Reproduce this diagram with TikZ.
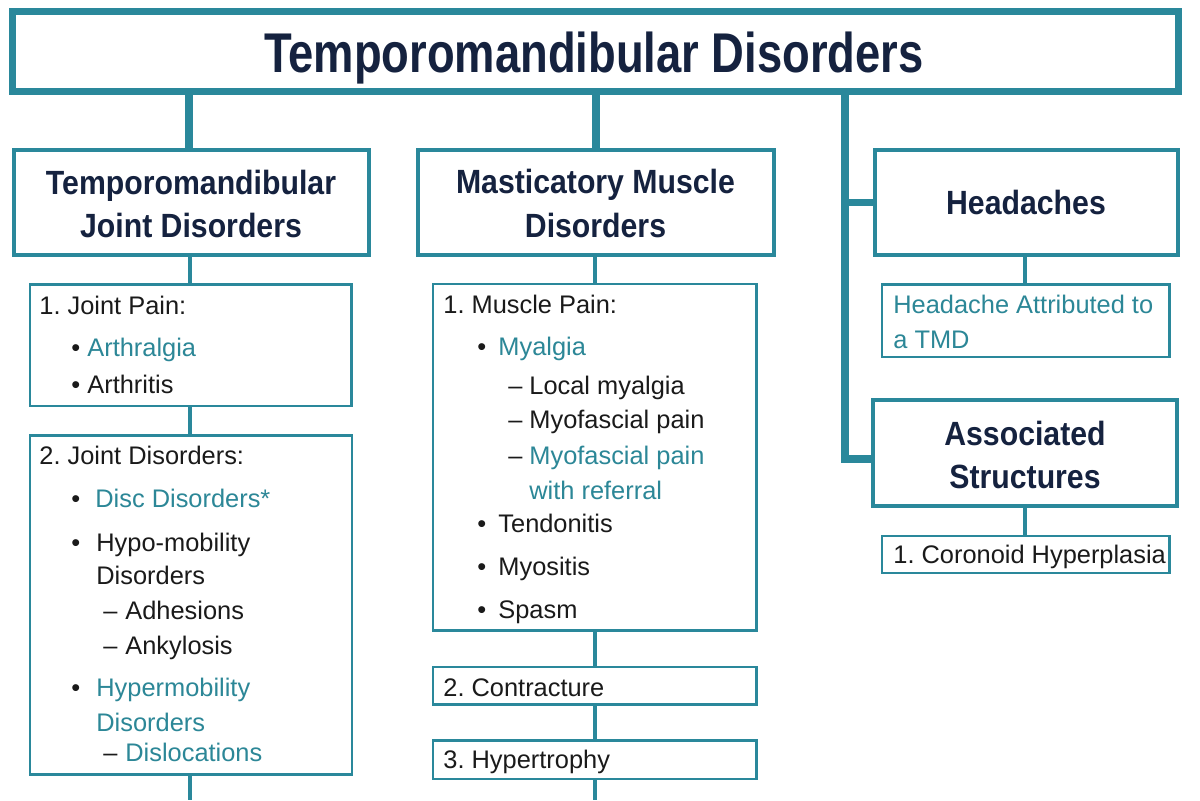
\documentclass[tikz,border=0pt]{standalone}
\usepackage{fontspec}
\setmainfont{Liberation Sans}
\newfontfamily\titlefont{Liberation Sans}[FakeStretch=0.81]
\newfontfamily\headfont{Liberation Sans}[FakeStretch=0.9]
\definecolor{tmdteal}{HTML}{2A889B}
\definecolor{tmdtext}{HTML}{2C8797}
\definecolor{tmdnavy}{HTML}{15223F}
\definecolor{tmdblack}{HTML}{1A1A1A}
\frenchspacing
\newcommand{\bodyfont}{\fontsize{12.7pt}{15pt}\selectfont\frenchspacing}
\newcommand{\bl}[1]{\makebox[#1][l]{\textcolor{tmdblack}{\char"2022}}}
\newcommand{\ds}[1]{\makebox[#1][l]{\textcolor{tmdblack}{\char"2013}}}
\begin{document}
\begin{tikzpicture}[x=0.5pt,y=-0.5pt,
  box/.style={draw=tmdteal, fill=white, rectangle, inner sep=0pt, outer sep=0pt},
  titlebox/.style={box, line width=3.5pt},
  headbox/.style={box, line width=2pt},
  subbox/.style={box, line width=1.4pt},
  trunk/.style={draw=tmdteal, line width=3.6pt, line join=miter},
  twig/.style={draw=tmdteal, line width=1.6pt},
  txt/.style={anchor=base west, inner sep=0pt, font=\bodyfont, text=tmdblack},
  ttxt/.style={txt, text=tmdtext},
  hd/.style={anchor=base, inner sep=0pt, text=tmdnavy, font={\headfont\bfseries\fontsize{16.8pt}{20pt}\selectfont}},
  ttl/.style={anchor=base, inner sep=0pt, text=tmdnavy, font={\titlefont\bfseries\fontsize{28pt}{32pt}\selectfont}}
]
\fill[white] (0,0) rectangle (1200,800);
\useasboundingbox (0,0) rectangle (1200,800);

% boxes
\node[titlebox, minimum width=583pt, minimum height=40pt] (title) at (595,51) {};
\node[headbox, minimum width=177.5pt, minimum height=52.5pt] (tmj) at (191,202.5) {};
\node[headbox, minimum width=178.25pt, minimum height=52.5pt] (mmd) at (595.75,202.5) {};
\node[headbox, minimum width=151.5pt, minimum height=52.5pt] (head) at (1026,202.5) {};
\node[headbox, minimum width=152pt, minimum height=53pt] (assoc) at (1025,453) {};
\node[subbox, minimum width=160.75pt, minimum height=60.75pt] (jp) at (190.75,345.25) {};
\node[subbox, minimum width=161pt, minimum height=169.5pt] (jd) at (191,605) {};
\node[subbox, minimum width=161.75pt, minimum height=173.25pt] (mp) at (594.75,457.25) {};
\node[subbox, minimum width=161.75pt, minimum height=18.75pt] (con) at (594.75,685.75) {};
\node[subbox, minimum width=161.75pt, minimum height=19.25pt] (hyp) at (594.75,759.75) {};
\node[subbox, minimum width=143.75pt, minimum height=36.25pt] (hsub) at (1025.75,320.75) {};
\node[subbox, minimum width=143.75pt, minimum height=18.5pt] (cor) at (1025.75,554.5) {};

% connectors
\coordinate (tb) at (845,459);
\coordinate (jdend) at (190,800);
\coordinate (hypend) at (595,800);
\draw[trunk] (title.south -| 189,0) -- (tmj.north -| 189,0);
\draw[trunk] (title.south -| 596,0) -- (mmd.north -| 596,0);
\draw[trunk] (title.south -| tb) -- (tb) -- (tb -| assoc.west);
\draw[trunk] (tb |- head.west) -- (head.west);
\draw[twig] (tmj.south -| 190,0) -- (jp.north -| 190,0);
\draw[twig] (jp.south -| 190,0) -- (jd.north -| 190,0);
\draw[twig] (jd.south -| jdend) -- (jdend);
\draw[twig] (mmd.south -| 595,0) -- (mp.north -| 595,0);
\draw[twig] (mp.south -| 595,0) -- (con.north -| 595,0);
\draw[twig] (con.south -| 595,0) -- (hyp.north -| 595,0);
\draw[twig] (hyp.south -| hypend) -- (hypend);
\draw[twig] (head.south -| 1025,0) -- (hsub.north -| 1025,0);
\draw[twig] (assoc.south -| 1025,0) -- (cor.north -| 1025,0);

% headings
\node[ttl] (ttitle) at (594,72) {Temporomandibular Disorders};
\node[hd] (htmja) at (191,194) {Temporomandibular};
\node[hd] (htmjb) at (191,237) {Joint Disorders};
\node[hd] (hmmda) at (595.5,193) {Masticatory Muscle};
\node[hd] (hmmdb) at (595.5,237) {Disorders};
\node[hd] (hhead) at (1026,214) {Headaches};
\node[hd] (hassa) at (1025,445) {Associated};
\node[hd] (hassb) at (1025,488) {Structures};

% joint pain
\node[txt] (jp1) at (39,314) {1. Joint Pain:};
\node[txt] (jp2) at (71,356) {\bl{8pt}\textcolor{tmdtext}{Arthralgia}};
\node[txt] (jp3) at (71,393) {\bl{8pt}Arthritis};

% joint disorders
\node[txt] (jd1) at (39,464) {2. Joint Disorders:};
\node[txt] (jd2) at (71,507) {\bl{12pt}\textcolor{tmdtext}{Disc Disorders*}};
\node[txt] (jd3) at (71,551) {\bl{12.5pt}Hypo-mobility};
\node[txt] (jd4) at (96,584) {Disorders};
\node[txt] (jd5) at (103,619) {\ds{11pt}Adhesions};
\node[txt] (jd6) at (103,654) {\ds{11pt}Ankylosis};
\node[txt] (jd7) at (71,696) {\bl{12.5pt}\textcolor{tmdtext}{Hypermobility}};
\node[ttxt] (jd8) at (96,731) {Disorders};
\node[txt] (jd9) at (103,761) {\ds{11pt}\textcolor{tmdtext}{Dislocations}};

% muscle pain
\node[txt] (mp1) at (443,313) {1. Muscle Pain:};
\node[txt] (mp2) at (477,355) {\bl{10.5pt}\textcolor{tmdtext}{Myalgia}};
\node[txt] (mp3) at (508,394) {\ds{10.5pt}Local myalgia};
\node[txt] (mp4) at (508,428) {\ds{10.5pt}Myofascial pain};
\node[txt] (mp5) at (508,464) {\ds{10.5pt}\textcolor{tmdtext}{Myofascial pain}};
\node[ttxt] (mp6) at (529,499) {with referral};
\node[txt] (mp7) at (477,532) {\bl{10.5pt}Tendonitis};
\node[txt] (mp8) at (477,575) {\bl{10.5pt}Myositis};
\node[txt] (mp9) at (477,618) {\bl{10.5pt}Spasm};
\node[txt] (con1) at (443,696) {2. Contracture};
\node[txt] (hyp1) at (443,768) {3. Hypertrophy};

% headaches / associated
\node[ttxt] (hs1) at (893,313) {Headache Attributed to};
\node[ttxt] (hs2) at (893,348) {a TMD};
\node[txt] (cor1) at (893,563) {1. Coronoid Hyperplasia};
\end{tikzpicture}
\end{document}
